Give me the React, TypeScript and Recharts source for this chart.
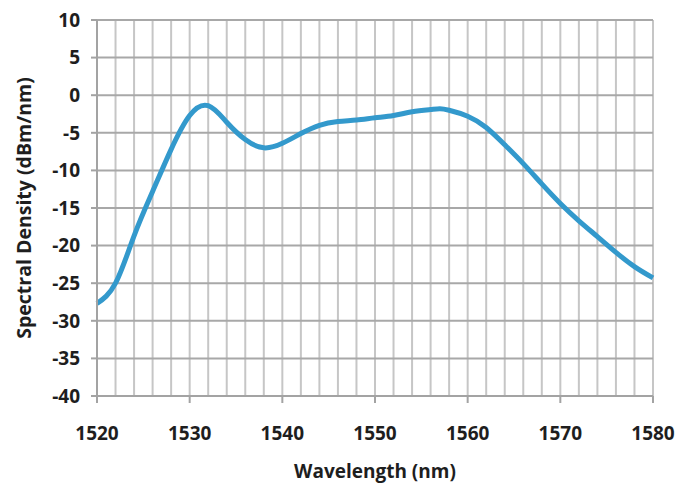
import React from 'react';
import { LineChart, Line, XAxis, YAxis, CartesianGrid } from 'recharts';

const wavelengths = [1520, 1522, 1524, 1526, 1528, 1530, 1532, 1534, 1536, 1538, 1540, 1542, 1544, 1546, 1548, 1550, 1552, 1554, 1556, 1557, 1558, 1560, 1562, 1564, 1566, 1568, 1570, 1572, 1574, 1576, 1578, 1580];
const density = [-27.7, -25.0, -18.7, -12.8, -7.2, -2.7, -1.4, -3.6, -5.9, -7.0, -6.4, -5.1, -4.0, -3.5, -3.3, -3.0, -2.7, -2.2, -1.9, -1.8, -2.0, -2.8, -4.3, -6.6, -9.1, -11.8, -14.4, -16.7, -18.8, -20.9, -22.8, -24.3];

const xTicks = [1520, 1530, 1540, 1550, 1560, 1570, 1580];
const xGridTicks = [1520, 1522, 1524, 1526, 1528, 1530, 1532, 1534, 1536, 1538, 1540, 1542, 1544, 1546, 1548, 1550, 1552, 1554, 1556, 1558, 1560, 1562, 1564, 1566, 1568, 1570, 1572, 1574, 1576, 1578, 1580];
const yTicks = [-40, -35, -30, -25, -20, -15, -10, -5, 0, 5, 10];
const xDomain = [1520, 1580];

const data = wavelengths.map((w, i) => ({ w, d: density[i] }));

const font = "'Open Sans', sans-serif";
const tickStyle = { fontFamily: font, fontWeight: 700, fontSize: 19, fill: '#1e1e1e' };
const axisGray = '#A3A3A3';

const verticalGen = (props: any) => {
  const xAxis = props && props.xAxis;
  if (xAxis && typeof xAxis.scale === 'function') {
    return xGridTicks.map((v) => xAxis.scale(v));
  }
  const off = props.offset;
  return xGridTicks.map((v) => off.left + ((v - xDomain[0]) / (xDomain[1] - xDomain[0])) * off.width);
};

export default function App() {
  return (
    <LineChart width={686} height={475} data={data} margin={{ top: 12, right: 41, left: 0, bottom: 0 }}>
      <CartesianGrid horizontal={false} stroke="#C6C6C6" strokeWidth={2} verticalCoordinatesGenerator={verticalGen} />
      <CartesianGrid vertical={false} stroke="#A8A8A8" strokeWidth={2} />
      <XAxis
        dataKey="w"
        type="number"
        domain={xDomain}
        ticks={xTicks}
        height={87}
        tickSize={7}
        tickMargin={24}
        stroke={axisGray}
        strokeWidth={2}
        tick={tickStyle}
        label={{ value: 'Wavelength (nm)', position: 'insideBottom', offset: 5, style: { ...tickStyle, textAnchor: 'middle' } }}
      />
      <YAxis
        type="number"
        domain={[-40, 10]}
        ticks={yTicks}
        width={89}
        tickSize={6}
        tickMargin={11}
        stroke={axisGray}
        strokeWidth={2}
        tick={tickStyle}
        interval={0}
        label={{ value: 'Spectral Density (dBm/nm)', angle: -90, position: 'insideLeft', offset: 16, style: { ...tickStyle, fontSize: 19.5, textAnchor: 'middle' } }}
      />
      <Line type="natural" dataKey="d" stroke="#3399CC" strokeWidth={5} dot={false} isAnimationActive={false} />
    </LineChart>
  );
}
